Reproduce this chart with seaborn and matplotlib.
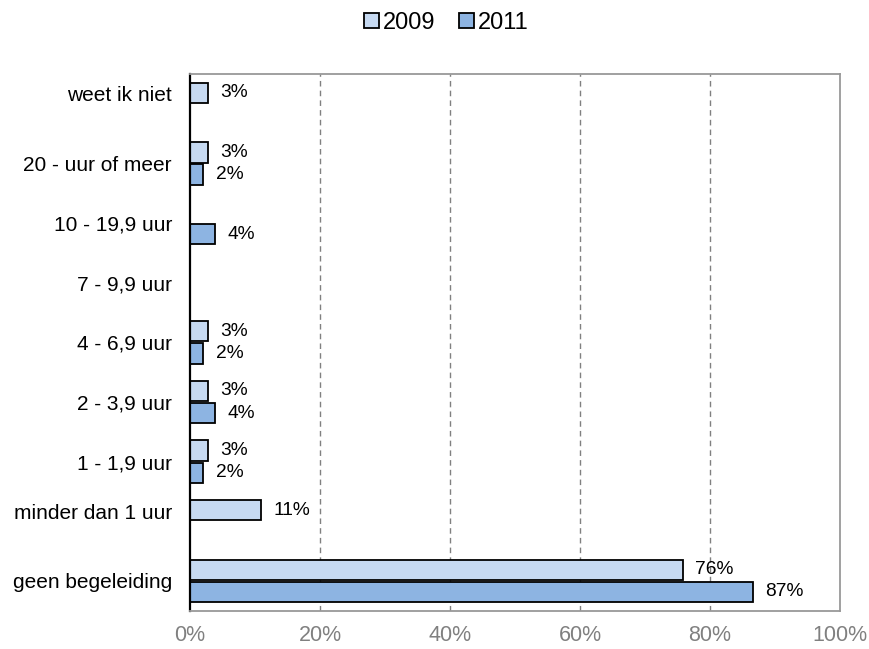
import numpy as np
import pandas as pd
import matplotlib
matplotlib.use('Agg')
import matplotlib.pyplot as plt
import matplotlib.transforms as mtransforms
import seaborn as sns

# Data (percentages)
categories = ['weet ik niet', '20 - uur of meer', '10 - 19,9 uur', '7 - 9,9 uur',
              '4 - 6,9 uur', '2 - 3,9 uur', '1 - 1,9 uur', 'minder dan 1 uur',
              'geen begeleiding']
values_2009 = [2.8, 2.8, np.nan, np.nan, 2.8, 2.8, 2.8, 10.9, 75.8]
values_2011 = [np.nan, 2.0, 3.8, np.nan, 2.0, 3.8, 2.0, np.nan, 86.6]
years = ['2009', '2011']
colors = ['#C6D9F1', '#8DB4E2']

df = pd.DataFrame({
    'categorie': categories * 2,
    'jaar': [years[0]] * len(categories) + [years[1]] * len(categories),
    'waarde': values_2009 + values_2011,
})

sns.set_style('white')
plt.rcParams['font.family'] = ['Liberation Sans', 'DejaVu Sans']
plt.rcParams['text.color'] = 'black'

fig = plt.figure(figsize=(8.7, 6.49), dpi=100)
ax = fig.add_axes([0.2184, 0.059, 0.7471, 0.827])

sns.barplot(data=df, y='categorie', x='waarde', hue='jaar', order=categories,
            hue_order=years, palette=colors, saturation=1, orient='h',
            width=0.74, gap=0.08, edgecolor='black', linewidth=1.3, ax=ax)

for cont in ax.containers:
    ax.bar_label(cont, fmt=lambda v: f'{v:.0f}%', padding=9, fontsize=13.8,
                 color='black')

ax.set_xlim(0, 100)
ax.set_ylim(len(categories) - 0.5, -0.5)
ax.set_xticks([0, 20, 40, 60, 80, 100])
ax.set_xticklabels(['0%', '20%', '40%', '60%', '80%', '100%'])
ax.set_xlabel('')
ax.set_ylabel('')
ax.tick_params(axis='x', length=0, pad=10, labelsize=15.5, labelcolor='#808080')
ax.tick_params(axis='y', length=0, pad=13, labelsize=15, labelcolor='black')

# the reference has two category labels sitting a little higher
shift = mtransforms.ScaledTranslation(0, 10 / 100, fig.dpi_scale_trans)
for lab in ax.get_yticklabels():
    if lab.get_text() in ('weet ik niet', 'minder dan 1 uur'):
        lab.set_transform(lab.get_transform() + shift)

for xv in [20, 40, 60, 80]:
    ax.axvline(xv, color='#808080', linestyle=(0, (4, 3)), linewidth=1, zorder=0)

for side in ['top', 'right', 'bottom']:
    ax.spines[side].set_color('#999999')
    ax.spines[side].set_linewidth(1.3)
ax.spines['left'].set_color('black')
ax.spines['left'].set_linewidth(1.6)

leg = ax.legend(loc='upper center', bbox_to_anchor=(0.395, 1.155), ncol=2,
                frameon=False, fontsize=17, handlelength=0.6, handleheight=0.6,
                handletextpad=0.2, columnspacing=1.0)
for t in leg.get_texts():
    t.set_color('black')

fig.savefig('out.png', dpi=100)
